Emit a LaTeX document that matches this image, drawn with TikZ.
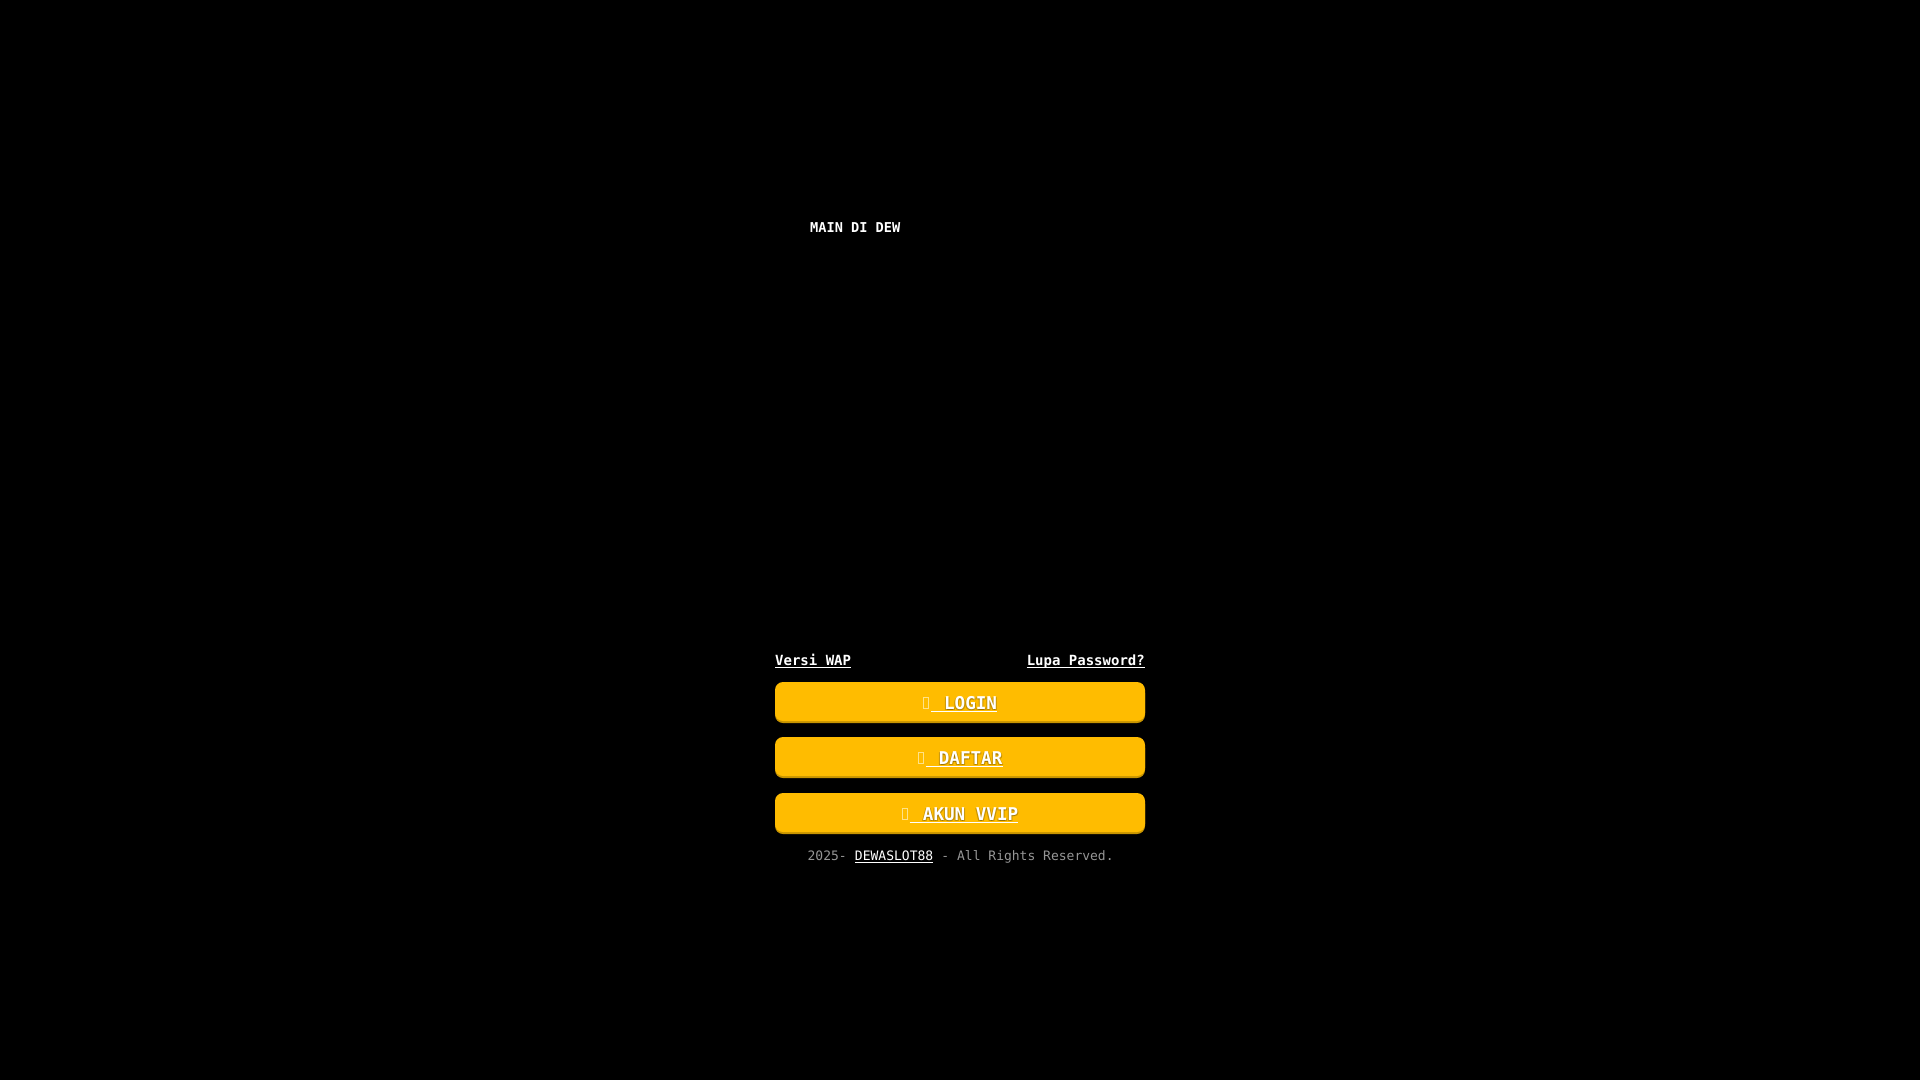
\documentclass[tikz,border=0pt]{standalone}
\usepackage{fontspec}
\setmainfont{DejaVu Sans Mono}
\usepackage{tikz}
\definecolor{btnfill}{RGB}{255,188,0}
\definecolor{btnedge}{RGB}{200,148,0}
\definecolor{footgrey}{RGB}{150,150,150}
\definecolor{tofucol}{RGB}{255,236,170}
\tikzset{
  btn/.style={rectangle, rounded corners=8pt, fill=btnfill, minimum width=370pt, minimum height=39pt, inner sep=0pt},
  btntext/.style={text=white, inner sep=0pt, font=\fontsize{17.6}{20}\selectfont\bfseries},
  btnshadow/.style={text=black, opacity=0.22, inner sep=0pt, font=\fontsize{17.6}{20}\selectfont\bfseries},
  linktext/.style={text=white, inner sep=0pt, font=\fontsize{14}{16}\selectfont\bfseries},
  foottext/.style={text=footgrey, inner sep=0pt, font=\fontsize{13}{15}\selectfont},
  uline/.style={white, line width=1pt},
  tofu/.style={tofucol, line width=0.8pt, opacity=0.8}
}
\begin{document}
\begin{tikzpicture}[x=1pt,y=-1pt]
\fill[black] (0,0) rectangle (1920,1080);
\node[linktext, anchor=base west, font=\fontsize{13.6}{16}\selectfont\bfseries] (title) at (810,232) {MAIN DI DEW};
% links
\node[linktext, anchor=base west] (wap) at (775,665) {Versi WAP};
\node[linktext, anchor=base east] (lupa) at (1145,665) {Lupa Password?};
\draw[uline] ([yshift=-2pt]wap.base west) -- ([yshift=-2pt]wap.base east);
\draw[uline] ([yshift=-2pt]lupa.base west) -- ([yshift=-2pt]lupa.base east);
% buttons
\foreach \name/\top/\txt in {login/682/LOGIN, daftar/737/DAFTAR, vvip/793/AKUN VVIP}{
  \fill[btnedge, rounded corners=8pt] (775,\top+3) rectangle (1145,\top+41);
  \node[btn] (\name) at (960,\top+19.5) {};
  \node[btnshadow, anchor=base] (\name-sha) at (966.3,\top+28.5) {\ \txt};
  \node[btnshadow, anchor=base] (\name-shb) at (964.3,\top+28.5) {\ \txt};
  \node[btntext, anchor=base] (\name-txt) at (965.3,\top+27) {\ \txt};
  \draw[uline] ([xshift=-2.5pt, yshift=-2pt]\name-txt.base west) -- ([yshift=-2pt]\name-txt.base east);
  \draw[tofu] ([xshift=-9.5pt, yshift=0.5pt]\name-txt.base west) rectangle +(5,-11);
}
% footer
\node[foottext, anchor=base west] (year) at (807.4,860) {2025-};
\node[foottext, anchor=base west, text=white] (brand) at ([xshift=7.83pt]year.base east) {DEWASLOT88};
\node[foottext, anchor=base west] (rights) at ([xshift=7.83pt]brand.base east) {- All Rights Reserved.};
\draw[uline, line width=0.8pt] ([yshift=-2pt]brand.base west) -- ([yshift=-2pt]brand.base east);
\end{tikzpicture}
\end{document}
